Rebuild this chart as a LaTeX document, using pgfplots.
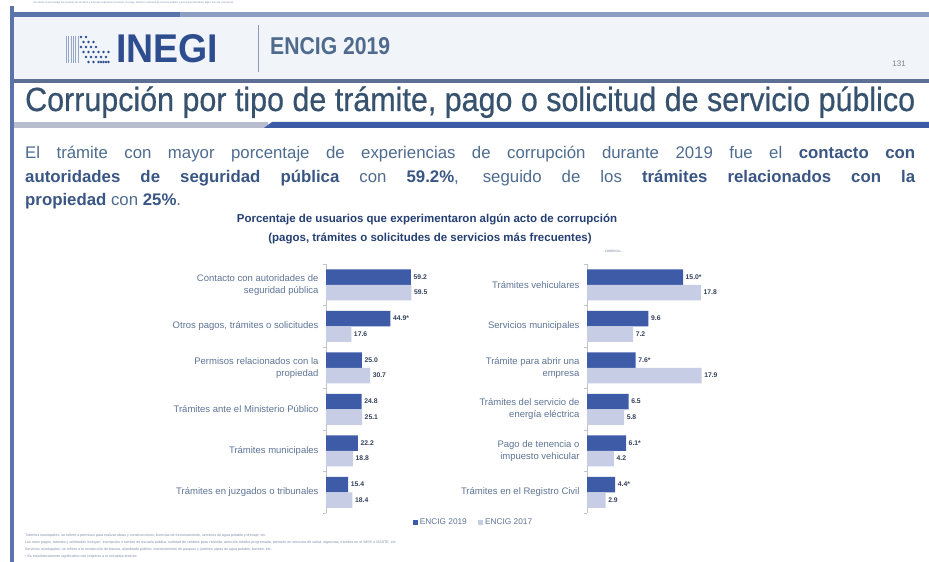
\documentclass[border=0pt]{standalone}
\usepackage{pgfplots}
\pgfplotsset{compat=1.18}
\usepackage{fontspec}
\setmainfont{Liberation Sans}
\newfontfamily\titlefont[FakeBold=0.6]{Liberation Sans}

\definecolor{c19}{HTML}{3D5BA6}
\definecolor{c17}{HTML}{C6CDE4}
\definecolor{border}{HTML}{5B74AB}
\definecolor{barlight}{HTML}{8C9DC2}
\definecolor{headbg}{HTML}{F1F4F9}
\definecolor{headline}{HTML}{5D6F92}
\definecolor{navy}{HTML}{2E4D8F}
\definecolor{encig}{HTML}{4F6A8C}
\definecolor{titlec}{HTML}{37526E}
\definecolor{paratext}{HTML}{4E6C8F}
\definecolor{parabold}{HTML}{3A5684}
\definecolor{charttitle}{HTML}{253F73}
\definecolor{labelc}{HTML}{5F7596}
\definecolor{valc}{HTML}{33415C}
\definecolor{axisc}{HTML}{BFC4CC}
\definecolor{notec}{HTML}{8090AA}

\pgfplotsset{
  slidebars/.style={
    xbar=0pt, bar width=15.5pt,
    scale only axis, height=249pt,
    xmin=0, ymin=-0.5, ymax=5.5, y dir=reverse,
    axis x line=none, axis y line=left,
    axis line style={draw=axisc, -},
    ytick={0,...,5},
    major tick length=0pt,
    minor ytick={-0.5,0.5,...,5.5},
    minor tick length=3pt, tick align=outside,
    minor tick style={draw=axisc},
    yticklabel style={font=\fontsize{9.5}{12}\selectfont, align=right, text=labelc, xshift=-4pt},
    point meta=explicit symbolic,
    nodes near coords={\pgfplotspointmeta},
    nodes near coords style={font=\fontsize{6.8}{7}\selectfont\bfseries, text=valc, anchor=west, inner sep=2.5pt},
    clip=false,
  },
  y2019/.style={fill=c19, draw=none, bar shift=7.75pt},
  y2017/.style={fill=c17, draw=none, bar shift=-7.75pt},
}

\begin{document}
\begin{tikzpicture}
\useasboundingbox (0,0) rectangle (929pt,562pt);
\fill[white] (0,0) rectangle (929pt,562pt);

% tiny text at the very top
\node[anchor=west, font=\fontsize{2.6}{3}\selectfont, text=notec] at (30pt,559pt)
  {Se refiere al porcentaje de usuarios de 18 años y más que realizaron al menos un pago, trámite o solicitud de servicio público y que experimentaron algún acto de corrupción.};

% frame bars
\fill[border] (10pt,0) rectangle (14pt,556pt);
\fill[border] (14pt,545pt) rectangle (180pt,550pt);
\fill[barlight] (180pt,545pt) rectangle (929pt,550pt);
\fill[headbg] (14pt,483pt) rectangle (929pt,545pt);
\fill[headline] (14pt,479pt) rectangle (929pt,483pt);

% logo
\foreach \i in {0,...,5} {
  \draw[navy!50, line width=0.6pt] ({(66+\i*2.4)*1pt},499pt) -- ({(66+\i*2.4)*1pt},526pt);
}
\foreach \i/\j in {0/0,0/2,1/1,1/3,2/0,2/2,2/4,3/1,3/3,3/5,4/2,4/4,5/1,5/3,5/5,6/2,6/4,7/3,7/5,8/4,8/5,9/5,9/3,10/4,10/5,11/5,11/3} {
  \fill[navy] ({(81+\i*2.5)*1pt},{(525-\j*5)*1pt}) circle (1.3pt);
}
\node[anchor=base west, inner sep=0pt, text=navy] at (116pt,499pt)
  {\resizebox{102pt}{28pt}{\bfseries INEGI}};
\draw[headline!70, line width=0.8pt] (258pt,537pt) -- (258pt,490pt);
\node[anchor=base west, inner sep=0pt, text=encig] at (270pt,507pt)
  {\resizebox{120pt}{17pt}{\bfseries ENCIG 2019}};
\node[anchor=base east, inner sep=0pt, text=gray, font=\fontsize{8}{9}\selectfont] at (906pt,495pt) {131};

% title
\node[anchor=base west, inner sep=0pt, text=titlec] at (25pt,451pt)
  {\scalebox{1}[1.1]{\resizebox{890pt}{!}{\titlefont\fontsize{26}{30}\selectfont Corrupción por tipo de trámite, pago o solicitud de servicio público}}};
\fill[c17!80!gray] (14pt,434pt) rectangle (268pt,440pt);
\fill[c19] (264pt,434pt) -- (929pt,434pt) -- (929pt,440pt) -- (272pt,440pt) -- cycle;

% paragraph
\begin{scope}[every node/.style={anchor=base west, inner sep=0pt, text=paratext, font=\fontsize{16.8}{20}\selectfont}]
\node at (25pt,403pt) {\makebox[890pt][s]{El trámite con mayor porcentaje de experiencias de corrupción durante 2019 fue el {\color{parabold}\bfseries contacto con}}};
\node at (25pt,379pt) {\makebox[890pt][s]{{\color{parabold}\bfseries autoridades de seguridad pública} con {\color{parabold}\bfseries 59.2\%}, seguido de los {\color{parabold}\bfseries trámites relacionados con la}}};
\node at (25pt,356pt) {{\color{parabold}\bfseries propiedad} con {\color{parabold}\bfseries 25\%}.};
\end{scope}

% chart title
\node[anchor=base, inner sep=0pt, text=charttitle, font=\fontsize{11.5}{14}\selectfont\bfseries] at (427pt,339pt)
  {Porcentaje de usuarios que experimentaron algún acto de corrupción};
\node[anchor=base, inner sep=0pt, text=charttitle, font=\fontsize{11.5}{14}\selectfont\bfseries] at (430pt,320pt)
  {(pagos, trámites o solicitudes de servicios más frecuentes)};
\node[anchor=base, inner sep=0pt, text=notec, font=\fontsize{4}{5}\selectfont] at (614pt,309pt) {continúa...};

% left chart
\begin{axis}[slidebars,
  at={(326pt,49pt)}, anchor=south west,
  width=100.5pt, xmax=70,
  yticklabels={{Contacto con autoridades de\\seguridad pública},
               {Otros pagos, trámites o solicitudes},
               {Permisos relacionados con la\\propiedad},
               {Trámites ante el Ministerio Público},
               {Trámites municipales},
               {Trámites en juzgados o tribunales}},
  legend style={at={(0.83,-0.038)}, anchor=west, draw=none, fill=none,
    font=\fontsize{8.3}{9}\selectfont, text=labelc, legend columns=-1,
    /tikz/every even column/.append style={column sep=9pt}},
]
\addplot[y2019,
  legend image code/.code={\fill[c19] (0pt,-2.6pt) rectangle (5.2pt,2.6pt);}]
  coordinates {(59.2,0) [59.2] (44.9,1) [44.9*] (25.0,2) [25.0] (24.8,3) [24.8] (22.2,4) [22.2] (15.4,5) [15.4]};
\addplot[y2017,
  legend image code/.code={\fill[c17] (0pt,-2.6pt) rectangle (5.2pt,2.6pt);}]
  coordinates {(59.5,0) [59.5] (17.6,1) [17.6] (30.7,2) [30.7] (25.1,3) [25.1] (18.8,4) [18.8] (18.4,5) [18.4]};
\legend{ENCIG 2019, ENCIG 2017}
\end{axis}

% right chart
\begin{axis}[slidebars,
  at={(587pt,49pt)}, anchor=south west,
  width=128pt, xmax=20,
  yticklabels={{Trámites vehiculares},
               {Servicios municipales},
               {Trámite para abrir una\\empresa},
               {Trámites del servicio de\\energía eléctrica},
               {Pago de tenencia o\\impuesto vehicular},
               {Trámites en el Registro Civil}},
]
\addplot[y2019]
  coordinates {(15.0,0) [15.0*] (9.6,1) [9.6] (7.6,2) [7.6*] (6.5,3) [6.5] (6.1,4) [6.1*] (4.4,5) [4.4*]};
\addplot[y2017]
  coordinates {(17.8,0) [17.8] (7.2,1) [7.2] (17.9,2) [17.9] (5.8,3) [5.8] (4.2,4) [4.2] (2.9,5) [2.9]};
\end{axis}

% footnotes
\begin{scope}[every node/.style={anchor=base west, inner sep=0pt, text=notec, font=\fontsize{3.6}{4}\selectfont}]
\node at (25pt,25pt) {Trámites municipales: se refiere a permisos para realizar obras y construcciones, licencias de funcionamiento, servicios de agua potable y drenaje, etc.};
\node at (25pt,18pt) {Los otros pagos, trámites y solicitudes incluyen: inscripción o cambio de escuela pública, solicitud de créditos para vivienda, atención médica programada, atención en servicios de salud, urgencias, trámites en el IMSS o ISSSTE, etc.};
\node at (25pt,11pt) {Servicios municipales: se refiere a la recolección de basura, alumbrado público, mantenimiento de parques y jardines, pipas de agua potable, bacheo, etc.};
\node at (25pt,4pt) {* Es estadísticamente significativo con respecto a la encuesta anterior.};
\end{scope}
\end{tikzpicture}
\end{document}
